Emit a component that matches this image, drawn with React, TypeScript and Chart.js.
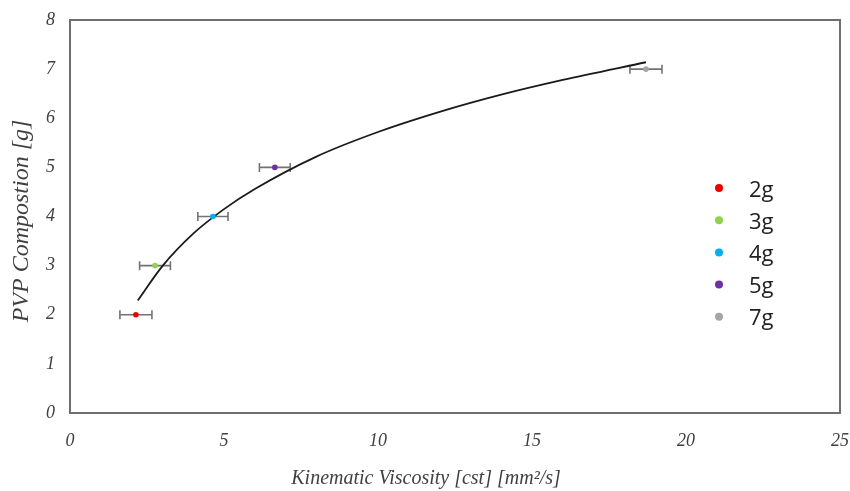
import React, { useEffect, useRef } from "react";
import { Chart, registerables } from "chart.js";

Chart.register(...registerables);

const seriesLabels = ["2g", "3g", "4g", "5g", "7g"];
const seriesColors = ["#ee0000", "#92d050", "#00b0f0", "#7030a0", "#a5a5a5"];
const viscosity = [2.14, 2.76, 4.64, 6.65, 18.7];
const pvpGrams = [2, 3, 4, 5, 7];
const viscosityErr = [0.52, 0.5, 0.49, 0.5, 0.52];

const trendX = [2.2, 3, 4, 5, 6, 8, 10, 12, 14, 16, 18.7];
const trendY = [2.29, 2.99, 3.65, 4.15, 4.56, 5.22, 5.72, 6.13, 6.48, 6.78, 7.14];

const xTitle = "Kinematic Viscosity [cst] [mm²/s]";
const yTitle = "PVP Compostion [g]";

const xMin = 0, xMax = 25, xStep = 5;
const yMin = 0, yMax = 8, yStep = 1;

const serif = "'Liberation Serif', 'Times New Roman', serif";
const textColor = "#404040";

const errorBarPlugin = {
  id: "errorBars",
  beforeDatasetsDraw(chart: any) {
    const ctx = chart.ctx;
    const xs = chart.scales.x;
    const ys = chart.scales.y;
    ctx.save();
    ctx.strokeStyle = "#737373";
    ctx.lineWidth = 1.6;
    for (let i = 0; i < viscosity.length; i++) {
      const x0 = xs.getPixelForValue(viscosity[i] - viscosityErr[i]);
      const x1 = xs.getPixelForValue(viscosity[i] + viscosityErr[i]);
      const y = ys.getPixelForValue(pvpGrams[i]);
      ctx.beginPath();
      ctx.moveTo(x0, y);
      ctx.lineTo(x1, y);
      ctx.moveTo(x0, y - 4.5);
      ctx.lineTo(x0, y + 4.5);
      ctx.moveTo(x1, y - 4.5);
      ctx.lineTo(x1, y + 4.5);
      ctx.stroke();
    }
    ctx.restore();
  },
};

const framePlugin = {
  id: "frameAndText",
  afterDraw(chart: any) {
    const ctx = chart.ctx;
    const a = chart.chartArea;
    ctx.save();
    // box
    ctx.strokeStyle = "#6f6f6f";
    ctx.lineWidth = 2;
    ctx.strokeRect(a.left, a.top, a.right - a.left, a.bottom - a.top);
    // axis titles
    ctx.fillStyle = textColor;
    ctx.font = `italic 20px ${serif}`;
    ctx.textAlign = "center";
    ctx.textBaseline = "middle";
    ctx.fillText(xTitle, 426, 479);
    ctx.save();
    ctx.translate(22, 221);
    ctx.rotate(-Math.PI / 2);
    ctx.font = `italic 24px ${serif}`;
    ctx.fillText(yTitle, 0, 0);
    ctx.restore();
    // legend
    ctx.font = "22px 'Open Sans', sans-serif";
    ctx.textAlign = "left";
    ctx.textBaseline = "alphabetic";
    for (let i = 0; i < seriesLabels.length; i++) {
      const cy = 188 + i * 32.2;
      ctx.fillStyle = seriesColors[i];
      ctx.beginPath();
      ctx.arc(719, cy, 4, 0, Math.PI * 2);
      ctx.fill();
      ctx.fillStyle = "#222222";
      ctx.fillText(seriesLabels[i], 749, cy + 8.5);
    }
    ctx.restore();
  },
};

export default function App() {
  const ref = useRef<HTMLCanvasElement | null>(null);
  useEffect(() => {
    if (!ref.current) return;
    const pointSets = seriesLabels.map((label, i) => ({
      type: "scatter" as const,
      label,
      data: [{ x: viscosity[i], y: pvpGrams[i] }],
      backgroundColor: seriesColors[i],
      borderColor: seriesColors[i],
      pointRadius: 2.8,
      borderWidth: 0,
      order: 1,
    }));
    const trend = {
      type: "scatter" as const,
      label: "trend",
      data: trendX.map((x, i) => ({ x, y: trendY[i] })),
      showLine: true,
      borderColor: "#1a1a1a",
      borderWidth: 1.8,
      pointRadius: 0,
      cubicInterpolationMode: "monotone" as const,
      order: 2,
    };
    const chart = new Chart(ref.current, {
      type: "scatter",
      data: { datasets: [trend, ...pointSets] as any },
      options: {
        responsive: false,
        animation: false,
        devicePixelRatio: 1,
        layout: { padding: { left: 0, top: 20, right: 10, bottom: 0 } },
        plugins: {
          legend: { display: false },
          tooltip: { enabled: false },
        },
        scales: {
          x: {
            type: "linear",
            min: xMin,
            max: xMax,
            afterFit: (s: any) => { s.height = 78; s.paddingLeft = 0; s.paddingRight = 0; },
            ticks: {
              stepSize: xStep,
              padding: 17,
              color: textColor,
              font: { family: serif, size: 18, style: "italic" },
              maxRotation: 0,
            },
            grid: { display: false, drawTicks: false, tickLength: 0 },
            border: { display: false },
          },
          y: {
            type: "linear",
            min: yMin,
            max: yMax,
            afterFit: (s: any) => { s.width = 70; s.paddingTop = 0; s.paddingBottom = 0; },
            ticks: {
              stepSize: yStep,
              padding: 15,
              color: textColor,
              font: { family: serif, size: 18, style: "italic" },
            },
            grid: { display: false, drawTicks: false, tickLength: 0 },
            border: { display: false },
          },
        },
      } as any,
      plugins: [errorBarPlugin, framePlugin],
    });
    return () => chart.destroy();
  }, []);
  return (
    <div style={{ position: "fixed", left: 0, top: 0, width: 850, height: 491, background: "#fff" }}>
      <canvas ref={ref} width={850} height={491} />
    </div>
  );
}
